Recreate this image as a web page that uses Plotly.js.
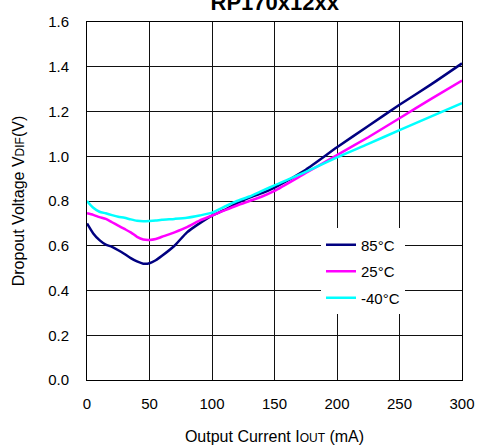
<!DOCTYPE html>
<html>
<head>
<meta charset="utf-8">
<script src="https://cdn.plot.ly/plotly-3.0.1.min.js"></script>
<style>html,body{margin:0;padding:0;background:#fff;}</style>
</head>
<body>
<div id="chart" style="width:477px;height:447px;"></div>
<script>
var currentMA = [0, 5, 10, 15, 20, 25, 30, 35, 40, 45, 50, 55, 60, 70, 80, 90, 100, 110, 120, 130, 140, 150, 175, 200, 225, 250, 275, 300];
var v85 = [0.70, 0.655, 0.625, 0.605, 0.595, 0.58, 0.563, 0.545, 0.53, 0.52, 0.522, 0.535, 0.555, 0.60, 0.66, 0.70, 0.735, 0.76, 0.79, 0.815, 0.835, 0.86, 0.94, 1.04, 1.135, 1.23, 1.32, 1.415];
var v25 = [0.745, 0.738, 0.728, 0.72, 0.705, 0.69, 0.675, 0.66, 0.64, 0.628, 0.626, 0.63, 0.64, 0.66, 0.683, 0.712, 0.735, 0.758, 0.78, 0.80, 0.82, 0.845, 0.925, 1.005, 1.085, 1.17, 1.255, 1.338];
var vm40 = [0.80, 0.77, 0.752, 0.745, 0.737, 0.73, 0.725, 0.718, 0.712, 0.71, 0.711, 0.713, 0.716, 0.72, 0.725, 0.735, 0.748, 0.775, 0.80, 0.82, 0.845, 0.87, 0.93, 0.995, 1.055, 1.117, 1.177, 1.237];
var seriesNames = ['85°C', '25°C', '-40°C'];
var xTicks = [0, 50, 100, 150, 200, 250, 300];
var yTicks = [0.0, 0.2, 0.4, 0.6, 0.8, 1.0, 1.2, 1.4, 1.6];
var yTickText = ['0.0', '0.2', '0.4', '0.6', '0.8', '1.0', '1.2', '1.4', '1.6'];

var FONT = 'Liberation Sans, Arial, sans-serif';
var colors = ['#000080', '#ff00ff', '#00ffff'];
var ys = [v85, v25, vm40];
var traces = ys.map(function (y, i) {
  return {
    x: currentMA, y: y, name: seriesNames[i], type: 'scatter', mode: 'lines',
    line: {color: colors[i], width: 2.5, shape: 'spline', smoothing: 0.6},
    legendgroup: 'g' + i
  };
});

var layout = {
  width: 477, height: 447,
  margin: {l: 87, r: 15, t: 22, b: 67},
  paper_bgcolor: '#fff', plot_bgcolor: '#fff',
  font: {family: FONT, size: 15, color: '#000'},
  title: {
    text: '<b>RP170x12xx</b>',
    font: {family: FONT, size: 22, color: '#000'},
    x: 0.576, xanchor: 'center', xref: 'container',
    y: 0.995, yanchor: 'middle', yref: 'container'
  },
  xaxis: {
    range: [0, 300], tickvals: xTicks, ticktext: xTicks.map(String),
    showgrid: true, gridcolor: '#111', gridwidth: 1,
    zeroline: false, showline: true, linecolor: '#000', linewidth: 1, mirror: true,
    ticks: '', ticklen: 0, ticklabelstandoff: 10,
    tickfont: {family: FONT, size: 15, color: '#000'},
    title: {text: 'Output Current I<span style="font-size:12px">OUT</span> (mA)', font: {family: FONT, size: 16, color: '#000'}, standoff: 19}
  },
  yaxis: {
    range: [0, 1.6], tickvals: yTicks, ticktext: yTickText,
    showgrid: true, gridcolor: '#111', gridwidth: 1,
    zeroline: false, showline: true, linecolor: '#000', linewidth: 1, mirror: true,
    ticks: '', ticklen: 0, ticklabelstandoff: 14,
    tickfont: {family: FONT, size: 15, color: '#000'},
    title: {text: 'Dropout Voltage V<span style="font-size:12px">DIF</span>(V)', font: {family: FONT, size: 16, color: '#000'}, standoff: 19}
  },
  showlegend: true,
  legend: {
    x: 0.624, y: 0.4234, xanchor: 'left', yanchor: 'top',
    bgcolor: '#fff', borderwidth: 0,
    font: {family: FONT, size: 15, color: '#000'},
    tracegroupgap: 4, traceorder: 'grouped',
    entrywidth: 88, entrywidthmode: 'pixels'
  }
};

Plotly.newPlot('chart', traces, layout, {staticPlot: true, displayModeBar: false});
</script>
</body>
</html>
